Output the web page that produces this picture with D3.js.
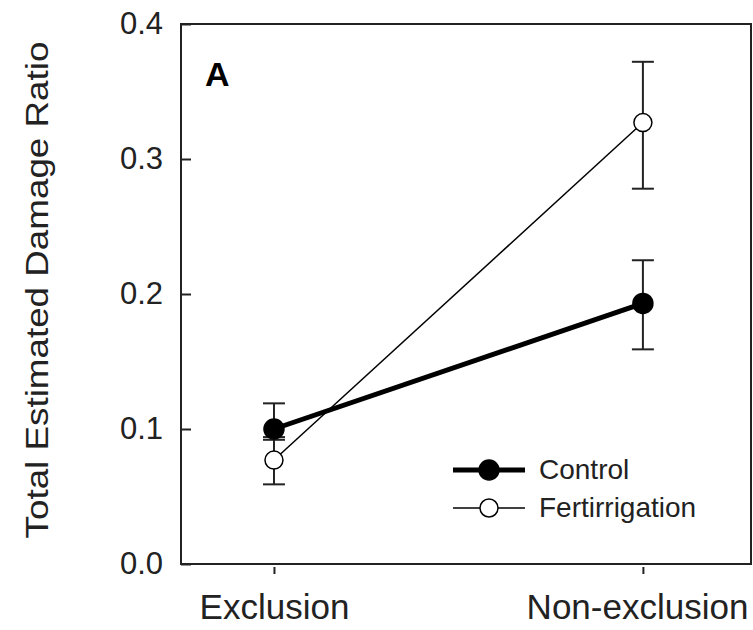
<!DOCTYPE html>
<html>
<head>
<meta charset="utf-8">
<script src="https://cdn.jsdelivr.net/npm/d3@7"></script>
<style>
  body { margin: 0; background: #fff; }
  svg { display: block; font-family: Arial, "Liberation Sans", sans-serif; }
</style>
</head>
<body>
<svg id="fig" width="753" height="630"></svg>
<script>
var sites = ['Exclusion', 'Non-exclusion'];
var controlMean = [0.100, 0.193];
var controlLow = [0.092, 0.159];
var controlHigh = [0.119, 0.225];
var fertMean = [0.077, 0.327];
var fertLow = [0.059, 0.278];
var fertHigh = [0.094, 0.372];
var yTicks = [0.0, 0.1, 0.2, 0.3, 0.4];

var series = [
  {name: 'Control', mean: controlMean, lo: controlLow, hi: controlHigh, fill: '#000', width: 5, r: 10},
  {name: 'Fertirrigation', mean: fertMean, lo: fertLow, hi: fertHigh, fill: '#fff', width: 1.5, r: 9}
];

var svg = d3.select('#fig');
var plotL = 181, plotR = 751, plotT = 24, plotB = 564;

var x = d3.scaleLinear().domain([-0.252, 1.293]).range([plotL, plotR]);
var y = d3.scaleLinear().domain([0, 0.4]).range([plotB, plotT]);

// frame
svg.append('rect')
  .attr('x', plotL).attr('y', plotT)
  .attr('width', plotR - plotL).attr('height', plotB - plotT)
  .attr('fill', 'none').attr('stroke', '#222').attr('stroke-width', 2);

// y axis
var yAxis = svg.append('g')
  .attr('transform', 'translate(' + plotL + ',0)')
  .call(d3.axisLeft(y).tickValues(yTicks).tickFormat(d3.format('.1f'))
    .tickSizeInner(-10).tickSizeOuter(0).tickPadding(18));
yAxis.select('.domain').remove();
yAxis.selectAll('line').attr('stroke', '#222').attr('stroke-width', 2);
yAxis.selectAll('text').attr('font-size', 31).attr('fill', '#222')
  .attr('font-family', 'Arial, "Liberation Sans", sans-serif');

// x axis
var xAxis = svg.append('g')
  .attr('transform', 'translate(0,' + (plotB + 3) + ')')
  .call(d3.axisBottom(x).tickValues([0, 1]).tickFormat(function(i) { return sites[i]; })
    .tickSizeInner(7).tickSizeOuter(0).tickPadding(20));
xAxis.select('.domain').remove();
xAxis.selectAll('line').attr('stroke', '#222').attr('stroke-width', 2);
xAxis.selectAll('text').attr('font-size', 35).attr('fill', '#222')
  .attr('font-family', 'Arial, "Liberation Sans", sans-serif');
xAxis.selectAll('.tick').filter(function(d) { return d === 1; }).select('text')
  .attr('text-anchor', 'end').attr('x', 105);

// y title, stretched a little along its length like the original
svg.append('text')
  .attr('transform', 'translate(48,290) rotate(-90) scale(1.15,1)')
  .attr('text-anchor', 'middle')
  .attr('font-size', 32)
  .attr('fill', '#222')
  .text('Total Estimated Damage Ratio');

// panel letter
svg.append('text')
  .attr('x', 205).attr('y', 86)
  .attr('font-size', 34).attr('font-weight', 'bold')
  .text('A');

var idx = [0, 1];

// lines (fertirrigation first so control sits on top)
series.slice().reverse().forEach(function(s) {
  svg.append('path')
    .datum(idx)
    .attr('fill', 'none')
    .attr('stroke', '#000')
    .attr('stroke-width', s.width)
    .attr('d', d3.line().x(function(i) { return x(i); }).y(function(i) { return y(s.mean[i]); }));
});

// error bars and markers
series.slice().reverse().forEach(function(s) {
  var g = svg.append('g');
  g.selectAll('line.v').data(idx).enter().append('line')
    .attr('x1', function(i) { return x(i); }).attr('x2', function(i) { return x(i); })
    .attr('y1', function(i) { return y(s.lo[i]); }).attr('y2', function(i) { return y(s.hi[i]); })
    .attr('stroke', '#222').attr('stroke-width', 2);
  ['lo', 'hi'].forEach(function(k) {
    g.selectAll('line.' + k).data(idx).enter().append('line')
      .attr('x1', function(i) { return x(i) - 11; }).attr('x2', function(i) { return x(i) + 11; })
      .attr('y1', function(i) { return y(s[k][i]); }).attr('y2', function(i) { return y(s[k][i]); })
      .attr('stroke', '#222').attr('stroke-width', 2);
  });
  g.selectAll('circle').data(idx).enter().append('circle')
    .attr('cx', function(i) { return x(i); })
    .attr('cy', function(i) { return y(s.mean[i]); })
    .attr('r', s.r)
    .attr('fill', s.fill)
    .attr('stroke', '#000').attr('stroke-width', 1.5);
});

// legend
var legY = [470, 508];
series.forEach(function(s, k) {
  var ly = legY[k];
  svg.append('line')
    .attr('x1', 453).attr('x2', 525).attr('y1', ly).attr('y2', ly)
    .attr('stroke', '#000').attr('stroke-width', s.width);
  svg.append('circle')
    .attr('cx', 489).attr('cy', ly).attr('r', s.r)
    .attr('fill', s.fill).attr('stroke', '#000').attr('stroke-width', 1.5);
  svg.append('text')
    .attr('x', 539).attr('y', ly + 9)
    .attr('font-size', 28).attr('fill', '#222')
    .text(s.name);
});
</script>
</body>
</html>
